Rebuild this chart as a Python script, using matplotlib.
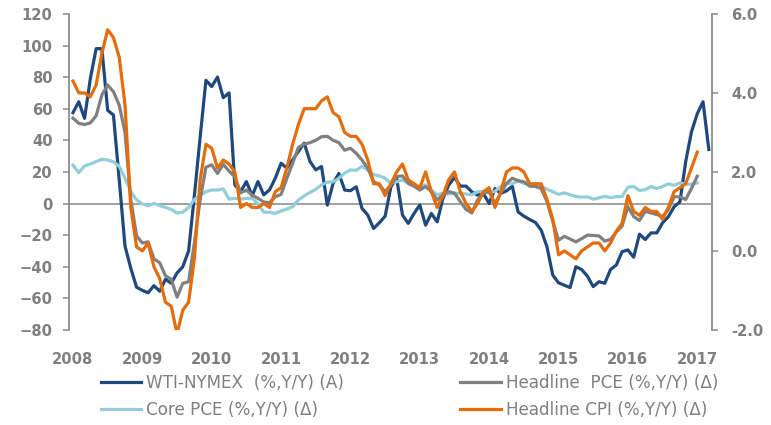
import matplotlib
matplotlib.use('Agg')
import matplotlib.pyplot as plt
import numpy as np

# ---------------- data (monthly, Jan 2008 onward) ----------------
year_labels = ['2008', '2009', '2010', '2011', '2012', '2013', '2014', '2015', '2016', '2017']

# WTI-NYMEX %, Y/Y (left axis), Jan 2008 - Mar 2017
wti = [57.5, 64.4, 53.9, 79, 98, 98, 59, 56, 15, -27, -41, -53,
       -55, -56.5, -52, -55.5, -48, -50.5, -44, -40, -30, 5, 42, 78,
       74, 80, 67, 70, 11.7, 7.5, 13.9, 4.9, 13.9, 5.5, 8.6, 16,
       25.5, 22.4, 27.6, 32.9, 38.2, 26.6, 21.3, 23.4, -1, 12.7, 19, 8.5,
       8.1, 10.6, -3.1, -7.3, -15.8, -12.2, -8, 10.6, 15.9, -7.3, -12.6, -6.3,
       -0.9, -13.7, -6.3, -11.6, 3.2, 11.6, 16.5, 11, 11, 7.4, 5.3, 6.3,
       0, 9.5, 6.3, 8, 10.9, -5.3, -8, -10.1, -12, -16.9, -27.4, -45.3,
       -50.2, -51.7, -53.2, -40, -41.8, -46, -52.6, -49.5, -50.5, -41.7, -38.9, -30.5,
       -29.4, -34, -19.4, -22.8, -18.6, -18.6, -12.2, -8.4, -2, 1, 26.5, 45.4,
       56.8, 64.4, 34.2]

# Headline PCE %, Y/Y (right axis), Jan 2008 - Jan 2017
pce = [3.36, 3.23, 3.2, 3.24, 3.42, 3.95, 4.2, 4.03, 3.69, 3.0, 1.3, 0.38,
       0.2, 0.23, -0.2, -0.3, -0.63, -0.72, -1.17, -0.82, -0.78, 0.2, 1.3, 2.12,
       2.18, 1.96, 2.19, 2.02, 1.88, 1.47, 1.54, 1.41, 1.33, 1.24, 1.22, 1.37,
       1.43, 1.84, 2.22, 2.62, 2.7, 2.74, 2.8, 2.89, 2.9, 2.8, 2.74, 2.55,
       2.6, 2.47, 2.3, 2.09, 1.76, 1.67, 1.5, 1.67, 1.88, 1.9, 1.71, 1.64,
       1.54, 1.63, 1.5, 1.29, 1.42, 1.5, 1.46, 1.25, 1.05, 0.96, 1.29, 1.46,
       1.5, 1.2, 1.46, 1.71, 1.84, 1.78, 1.75, 1.64, 1.63, 1.58, 1.25, 0.75,
       0.27, 0.37, 0.3, 0.23, 0.31, 0.4, 0.39, 0.38, 0.25, 0.29, 0.48, 0.63,
       1.12, 0.87, 0.77, 1.0, 0.96, 0.92, 0.87, 1.05, 1.37, 1.37, 1.3, 1.58,
       1.89]

# Core PCE %, Y/Y (right axis)
core = [2.17, 1.98, 2.15, 2.2, 2.26, 2.32, 2.3, 2.26, 2.14, 1.84, 1.5, 1.29,
        1.19, 1.14, 1.2, 1.15, 1.1, 1.05, 0.96, 0.98, 1.1, 1.3, 1.41, 1.5,
        1.54, 1.54, 1.57, 1.31, 1.33, 1.31, 1.33, 1.33, 1.19, 0.98, 0.98, 0.95,
        1.01, 1.06, 1.12, 1.29, 1.39, 1.48, 1.56, 1.67, 1.74, 1.75, 1.84, 1.97,
        2.05, 2.04, 2.14, 2.05, 1.93, 1.9, 1.84, 1.71, 1.75, 1.8, 1.71, 1.64,
        1.63, 1.67, 1.54, 1.42, 1.46, 1.44, 1.46, 1.46, 1.44, 1.42, 1.5, 1.5,
        1.47, 1.51, 1.63, 1.71, 1.7, 1.77, 1.71, 1.69, 1.67, 1.64, 1.56, 1.5,
        1.43, 1.47, 1.42, 1.38, 1.36, 1.37, 1.31, 1.34, 1.38, 1.35, 1.37, 1.38,
        1.61, 1.63, 1.53, 1.55, 1.63, 1.58, 1.63, 1.7, 1.66, 1.72, 1.69, 1.69,
        1.72]

# Headline CPI %, Y/Y (right axis)
cpi = [4.3, 4.0, 4.0, 3.9, 4.2, 5.0, 5.6, 5.4, 4.9, 3.7, 1.1, 0.1,
       0.0, 0.2, -0.4, -0.7, -1.3, -1.4, -2.1, -1.5, -1.3, -0.2, 1.8, 2.7,
       2.6, 2.1, 2.3, 2.2, 2.0, 1.1, 1.2, 1.1, 1.1, 1.2, 1.1, 1.5,
       1.6, 2.1, 2.7, 3.2, 3.6, 3.6, 3.6, 3.8, 3.9, 3.5, 3.4, 3.0,
       2.9, 2.9, 2.7, 2.3, 1.7, 1.7, 1.4, 1.7, 2.0, 2.2, 1.8, 1.7,
       1.6, 2.0, 1.5, 1.1, 1.4, 1.8, 2.0, 1.5, 1.2, 1.0, 1.2, 1.5,
       1.6, 1.1, 1.5, 2.0, 2.1, 2.1, 2.0, 1.7, 1.7, 1.7, 1.3, 0.8,
       -0.1, 0.0, -0.1, -0.2, 0.0, 0.1, 0.2, 0.2, 0.0, 0.2, 0.5, 0.7,
       1.4, 1.0, 0.9, 1.1, 1.0, 1.0, 0.8, 1.1, 1.5, 1.6, 1.7, 2.1,
       2.5]

labels = ['WTI-NYMEX  (%,Y/Y) (A)', 'Headline  PCE (%,Y/Y) (\u0394)',
          'Core PCE (%,Y/Y) (\u0394)', 'Headline CPI (%,Y/Y) (\u0394)']
colors = ['#1f497d', '#808080', '#92cddc', '#e46c0a']

# ---------------- figure ----------------
W, H = 771, 425
fig = plt.figure(figsize=(W / 100, H / 100), dpi=100)
x0, x1, ytop, ybot = 69, 712, 13.9, 329.9
ax = fig.add_axes([x0 / W, 1 - ybot / H, (x1 - x0) / W, (ybot - ytop) / H])
ax2 = ax.twinx()

txt_col = '#7f7f7f'
spine_col = '#8c8c8c'
lw = 2.3

m_wti = np.arange(len(wti))
m = np.arange(len(cpi))

ax.axhline(0, color='#999999', lw=1.3, zorder=1)
l_wti, = ax.plot(m_wti, wti, color=colors[0], lw=lw, zorder=3)
l_core, = ax2.plot(m, core, color=colors[2], lw=lw, zorder=2)
l_pce, = ax2.plot(m, pce, color=colors[1], lw=lw, zorder=3)
l_cpi, = ax2.plot(m, cpi, color=colors[3], lw=lw, zorder=4)

ax.set_xlim(-0.69, 110.55)
ax.set_ylim(-80, 120)
ax2.set_ylim(-2, 6)
ax.set_yticks(np.arange(-80, 121, 20))
ax2.set_yticks(np.arange(-2, 6.1, 2))
ax2.set_yticklabels(['%.1f' % v for v in np.arange(-2, 6.1, 2)])
ax.set_xticks(np.arange(0, 109, 12))
ax.set_xticklabels(year_labels)

for a in (ax, ax2):
    for s in a.spines.values():
        s.set_visible(False)
    a.patch.set_visible(False)
ax.spines['left'].set_visible(True)
ax.spines['left'].set_color(spine_col)
ax.spines['left'].set_linewidth(1.3)
ax2.spines['right'].set_visible(True)
ax2.spines['right'].set_color(spine_col)
ax2.spines['right'].set_linewidth(1.3)

fs_tick = 10.6
ax.tick_params(axis='y', direction='out', length=4.3, width=1.1, color=spine_col,
               labelsize=fs_tick, labelcolor=txt_col, pad=7.5)
ax2.tick_params(axis='y', direction='out', length=4.3, width=1.1, color=spine_col,
                labelsize=fs_tick, labelcolor=txt_col, pad=9.5)
ax.tick_params(axis='x', length=0, labelsize=fs_tick, labelcolor=txt_col, pad=16)
for t in ax.get_yticklabels() + ax2.get_yticklabels() + ax.get_xticklabels():
    t.set_fontweight('bold')
    t.set_fontfamily('DejaVu Sans')

leg = fig.legend([l_wti, l_core, l_pce, l_cpi],
                 [labels[0], labels[2], labels[1], labels[3]],
                 ncol=2, loc='upper left', bbox_to_anchor=(101 / W, 1 - 374 / H),
                 frameon=False, fontsize=12.1, handlelength=2.4, handletextpad=0.3,
                 columnspacing=6.9, borderpad=0, borderaxespad=0, labelspacing=0.55)
for t in leg.get_texts():
    t.set_color(txt_col)

fig.savefig('out.png', dpi=100)
